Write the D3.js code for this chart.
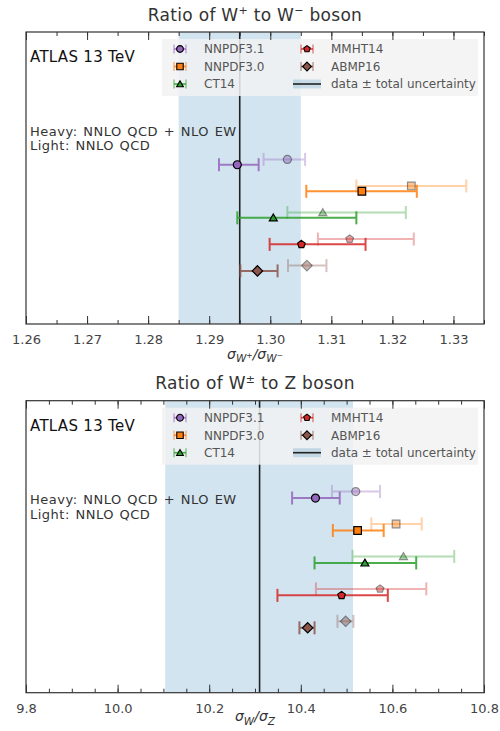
<!DOCTYPE html>
<html>
<head>
<meta charset="utf-8">
<script src="https://cdn.jsdelivr.net/npm/d3@7"></script>
<style>
  body { margin: 0; background: #fff; }
  svg { display: block; }
  text { font-family: "DejaVu Sans", sans-serif; }
</style>
</head>
<body>
<div class="container"></div>
<script>
// PDF sets, drawing order top to bottom
const pdfSets = ["NNPDF3.1", "NNPDF3.0", "CT14", "MMHT14", "ABMP16"]
const pdfColors = ["#9467bd", "#ff7f0e", "#2ca02c", "#d62728", "#8c564b"]
const pdfShapes = ["circle", "square", "triangle", "pentagon", "diamond"]
const rowPos = [6, 5, 4, 3, 2]

// W+ / W- ratio : [central, low, high]
const wpwmHeavy = [[1.2946, 1.2916, 1.2981], [1.3150, 1.3059, 1.3240], [1.3005, 1.2946, 1.3141], [1.3051, 1.2999, 1.3156], [1.2979, 1.2951, 1.3012]]
const wpwmLight = [[1.3028, 1.2989, 1.3057], [1.3231, 1.3141, 1.3321], [1.3086, 1.3028, 1.3222], [1.3130, 1.3078, 1.3235], [1.3060, 1.3029, 1.3092]]
const wpwmData = [1.295, 1.285, 1.305]
const wpwmTicks = [1.26, 1.27, 1.28, 1.29, 1.30, 1.31, 1.32, 1.33]

// W / Z ratio
const wzHeavy = [[10.432, 10.381, 10.485], [10.524, 10.470, 10.581], [10.540, 10.430, 10.652], [10.489, 10.349, 10.590], [10.415, 10.397, 10.430]]
const wzLight = [[10.520, 10.468, 10.573], [10.608, 10.554, 10.664], [10.624, 10.513, 10.735], [10.573, 10.433, 10.674], [10.498, 10.480, 10.515]]
const wzData = [10.31, 10.104, 10.514]
const wzTicks = [9.8, 10.0, 10.2, 10.4, 10.6, 10.8]

const W = 500, H = 731
const left = 26, right = 484, plotH = 292

const svg = d3.select(".container").append("svg")
  .attr("width", W).attr("height", H)

// marker path for a shape at size r
function markerPath(shape, r) {
  let pts
  if (shape == "circle") return d3.symbol(d3.symbolCircle, Math.PI * r * r)()
  if (shape == "square") {
    const s = r * 0.95
    pts = [[-s, -s], [s, -s], [s, s], [-s, s]]
  } else if (shape == "triangle") {
    const t = r * 1.15
    pts = [-90, 30, 150].map(a => [t * Math.cos(a * Math.PI / 180), t * Math.sin(a * Math.PI / 180) + 0.8])
  } else if (shape == "pentagon") {
    pts = [0, 1, 2, 3, 4].map(i => {
      const a = (-90 + 72 * i) * Math.PI / 180
      return [r * Math.cos(a), r * Math.sin(a)]
    })
  } else {
    const t = r * 1.3
    pts = [[0, -t], [t, 0], [0, t], [-t, 0]]
  }
  return "M" + pts.map(p => p.join(",")).join("L") + "Z"
}

function drawPanel(cfg) {
  const top = cfg.top
  const bottom = top + plotH
  const x = d3.scaleLinear().domain(cfg.domain).range([left, right])
  const y = d3.scaleLinear().domain([0, cfg.ymax]).range([bottom, top])

  const g = svg.append("g")

  // title
  const title = g.append("text")
    .attr("x", (left + right) / 2).attr("y", top - 11.5)
    .attr("text-anchor", "middle")
    .style("font-size", "17px").style("letter-spacing", "0.3px").attr("fill", "#333")
  cfg.title.forEach(part => {
    const ts = title.append("tspan").text(part[0])
    if (part[1] == "sup") ts.attr("dy", -6.5).style("font-size", "11px")
    if (part[1] == "back") ts.attr("dy", 6.5)
  })

  // data band + line
  g.append("rect")
    .attr("x", x(cfg.data[1])).attr("width", x(cfg.data[2]) - x(cfg.data[1]))
    .attr("y", top).attr("height", plotH)
    .attr("fill", "#1f77b4").attr("fill-opacity", 0.2)
  g.append("line")
    .attr("x1", x(cfg.data[0])).attr("x2", x(cfg.data[0]))
    .attr("y1", top).attr("y2", bottom)
    .attr("stroke", "#222").attr("stroke-width", 1.6)

  // predictions
  const drawSet = (vals, offset, barOp, markOp) => {
    vals.forEach((v, i) => {
      const yy = y(rowPos[i] + offset)
      const eg = g.append("g").attr("stroke", pdfColors[i]).attr("stroke-width", 2).attr("opacity", barOp)
      eg.append("line").attr("x1", x(v[1])).attr("x2", x(v[2])).attr("y1", yy).attr("y2", yy)
      eg.append("line").attr("x1", x(v[1])).attr("x2", x(v[1])).attr("y1", yy - 6.5).attr("y2", yy + 6.5)
      eg.append("line").attr("x1", x(v[2])).attr("x2", x(v[2])).attr("y1", yy - 6.5).attr("y2", yy + 6.5)
      g.append("path")
        .attr("d", markerPath(pdfShapes[i], 4))
        .attr("transform", `translate(${x(v[0])},${yy})`)
        .attr("fill", pdfColors[i]).attr("stroke", "#000").attr("stroke-width", 1.2)
        .attr("opacity", markOp)
    })
  }
  drawSet(cfg.light, 0.2, 0.35, 0.45)
  drawSet(cfg.heavy, 0, 0.85, 1)

  // texts
  g.append("text").attr("x", 30).attr("y", top + 30)
    .style("font-size", "15px").style("letter-spacing", "0.3px").attr("fill", "#111").text("ATLAS 13 TeV")
  g.append("text").attr("x", 30).attr("y", cfg.heavyY)
    .style("font-size", "13px").style("letter-spacing", "0.5px").style("word-spacing", "1px")
    .attr("fill", "#333").text("Heavy: NNLO QCD + NLO EW")
  g.append("text").attr("x", 30).attr("y", cfg.heavyY + 14.3)
    .style("font-size", "13px").style("letter-spacing", "0.5px").style("word-spacing", "1px")
    .attr("fill", "#333").text("Light: NNLO QCD")

  // legend
  const lg = g.append("g").attr("transform", `translate(162,${top + 7})`)
  lg.append("rect").attr("width", 316).attr("height", 57)
    .attr("fill", "#f2f2f2").attr("fill-opacity", 0.85)
  const rowsY = [10, 27.5, 45]
  pdfSets.forEach((name, i) => {
    const cx = i < 3 ? 18 : 145
    const cy = rowsY[i < 3 ? i : i - 3]
    const hg = lg.append("g").attr("stroke", pdfColors[i]).attr("stroke-width", 1.6)
    hg.append("line").attr("x1", cx - 6).attr("x2", cx + 6).attr("y1", cy).attr("y2", cy).attr("opacity", 0.85)
    hg.append("line").attr("x1", cx - 6).attr("x2", cx - 6).attr("y1", cy - 4.5).attr("y2", cy + 4.5).attr("opacity", 0.5)
    hg.append("line").attr("x1", cx + 6).attr("x2", cx + 6).attr("y1", cy - 4.5).attr("y2", cy + 4.5).attr("opacity", 0.5)
    lg.append("path").attr("d", markerPath(pdfShapes[i], 3.4))
      .attr("transform", `translate(${cx},${cy})`)
      .attr("fill", pdfColors[i]).attr("stroke", "#000").attr("stroke-width", 1.1)
    lg.append("text").attr("x", cx + 24).attr("y", cy + 4.4)
      .style("font-size", "12px").attr("fill", "#555").text(name)
  })
  lg.append("rect").attr("x", 131).attr("y", rowsY[2] - 4.5).attr("width", 28).attr("height", 9)
    .attr("fill", "#1f77b4").attr("fill-opacity", 0.2)
  lg.append("line").attr("x1", 131).attr("x2", 159).attr("y1", rowsY[2]).attr("y2", rowsY[2])
    .attr("stroke", "#222").attr("stroke-width", 1.6)
  lg.append("text").attr("x", 169).attr("y", rowsY[2] + 4.4)
    .style("font-size", "12px").attr("fill", "#555").text("data \u00b1 total uncertainty")

  // axes
  const minor = d3.range(cfg.domain[0], cfg.domain[1] + 1e-9, cfg.minorStep)
  const styleAxis = a => {
    a.select(".domain").remove()
    a.selectAll("line").attr("stroke", "#333")
    a.selectAll("text").style("font-size", "13px").attr("fill", "#444")
      .style("font-family", "\"DejaVu Sans\", sans-serif")
  }
  g.append("g").attr("transform", `translate(0,${bottom})`)
    .call(d3.axisBottom(x).tickValues(minor).tickSize(-4).tickFormat(""))
    .call(styleAxis)
  g.append("g").attr("transform", `translate(0,${top})`)
    .call(d3.axisTop(x).tickValues(minor).tickSize(-4).tickFormat(""))
    .call(styleAxis)
  g.append("g").attr("transform", `translate(0,${bottom})`)
    .call(d3.axisBottom(x).tickValues(cfg.ticks).tickSize(-8).tickPadding(10.8).tickFormat(d3.format(cfg.fmt)))
    .call(styleAxis)
  g.append("g").attr("transform", `translate(0,${top})`)
    .call(d3.axisTop(x).tickValues(cfg.ticks).tickSize(-8).tickFormat(""))
    .call(styleAxis)

  g.append("rect").attr("x", left).attr("y", top).attr("width", right - left).attr("height", plotH)
    .attr("fill", "none").attr("stroke", "#333").attr("stroke-width", 1.2)

  // x label
  const xl = g.append("text").attr("x", (left + right) / 2).attr("y", bottom + cfg.labelDy)
    .attr("text-anchor", "middle").style("font-size", "14px").style("font-style", "italic").attr("fill", "#333")
  cfg.label.forEach(part => {
    const ts = xl.append("tspan").text(part[0])
    if (part[1] == "sub") ts.attr("dy", 3.5).style("font-size", "10.5px")
    if (part[1] == "sup") ts.attr("dy", -4.5).style("font-size", "7.5px").style("font-style", "normal")
    if (part[1] == "back") ts.attr("dy", -3.5)
    if (part[1] == "back2") ts.attr("dy", 1)
  })
}

drawPanel({
  top: 32, title: [["Ratio of W", ""], ["+", "sup"], [" to W", "back"], ["\u2212", "sup"], [" boson", "back"]],
  domain: [1.26, 1.335], minorStep: 0.005, ticks: wpwmTicks, fmt: ".2f", ymax: 11,
  heavy: wpwmHeavy, light: wpwmLight, data: wpwmData, heavyY: 135.7, labelDy: 34.5,
  label: [["\u03c3", ""], ["W", "sub"], ["+", "sup"], ["/\u03c3", "back2"], ["W", "sub"], ["\u2212", "sup"]]
})

drawPanel({
  top: 400.7, title: [["Ratio of W", ""], ["\u00b1", "sup"], [" to Z boson", "back"]],
  domain: [9.8, 10.8], minorStep: 0.05, ticks: wzTicks, fmt: ".1f", ymax: 9,
  heavy: wzHeavy, light: wzLight, data: wzData, heavyY: 504.3, labelDy: 28.5,
  label: [["\u03c3", ""], ["W", "sub"], ["/\u03c3", "back"], ["Z", "sub"]]
})
</script>
</body>
</html>
